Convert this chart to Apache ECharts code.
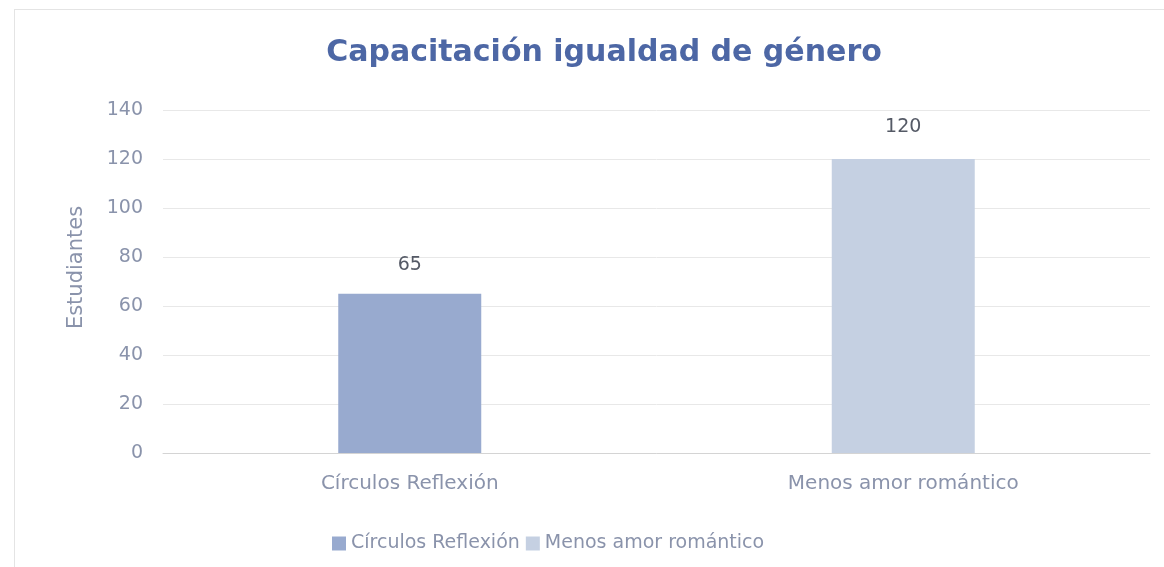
<!DOCTYPE html>
<html>
<head>
<meta charset="utf-8">
<script src="https://cdn.jsdelivr.net/npm/echarts@6/dist/echarts.min.js"></script>
<style>
  html, body { margin: 0; padding: 0; background: #fff; }
  #frame { position: absolute; left: 14px; top: 9px; width: 1160px; height: 570px; border: 1px solid #e4e4e4; box-sizing: border-box; }
  #container { position: absolute; left: 0; top: 0; width: 1164px; height: 567px; }
</style>
</head>
<body>
<div id="frame"></div>
<div id="container"></div>
<script>
var categories = ['Círculos Reflexión', 'Menos amor romántico'];
var circulosValues = [65, '-'];
var menosAmorValues = ['-', 120];
var yTicks = { min: 0, max: 140, interval: 20 };

var chart = echarts.init(document.getElementById('container'));
var font = '"DejaVu Sans", sans-serif';
var textGray = '#8a93ab';

var option = {
    title: {
        text: 'Capacitación igualdad de género',
        left: 599,
        textAlign: 'center',
        top: 33,
        textStyle: {
            color: '#4d67a5',
            fontFamily: font,
            fontWeight: 'bold',
            fontSize: 30
        }
    },
    legend: {
        data: categories,
        left: 327,
        top: 529,
        itemWidth: 14,
        itemHeight: 14,
        itemGap: 6,
        icon: 'rect',
        textStyle: {
            color: textGray,
            fontFamily: font,
            fontSize: 19
        }
    },
    grid: {
        left: 163,
        right: 14,
        top: 110,
        bottom: 114
    },
    xAxis: {
        type: 'category',
        data: categories,
        axisTick: { show: false },
        axisLine: { lineStyle: { color: '#d4d4d4' } },
        axisLabel: {
            color: textGray,
            fontFamily: font,
            fontSize: 20,
            margin: 21
        }
    },
    yAxis: {
        type: 'value',
        min: yTicks.min,
        max: yTicks.max,
        interval: yTicks.interval,
        name: 'Estudiantes',
        nameLocation: 'middle',
        nameGap: 76,
        nameTextStyle: {
            color: textGray,
            fontFamily: font,
            fontSize: 21,
            padding: [0, 0, 0, 28]
        },
        axisLabel: {
            color: textGray,
            fontFamily: font,
            fontSize: 19,
            margin: 20
        },
        splitLine: { lineStyle: { color: '#e8e8e8' } }
    },
    series: [{
        name: categories[0],
        type: 'bar',
        stack: 'one',
        barWidth: 143,
        data: circulosValues,
        itemStyle: { color: '#98aacf' },
        label: {
            show: true,
            position: 'top',
            distance: 19,
            color: '#555a66',
            fontFamily: font,
            fontSize: 19
        }
    }, {
        name: categories[1],
        type: 'bar',
        stack: 'one',
        barWidth: 143,
        data: menosAmorValues,
        itemStyle: { color: '#c5d0e2' },
        label: {
            show: true,
            position: 'top',
            distance: 22,
            color: '#555a66',
            fontFamily: font,
            fontSize: 19
        }
    }]
};
chart.setOption(option);
</script>
</body>
</html>
